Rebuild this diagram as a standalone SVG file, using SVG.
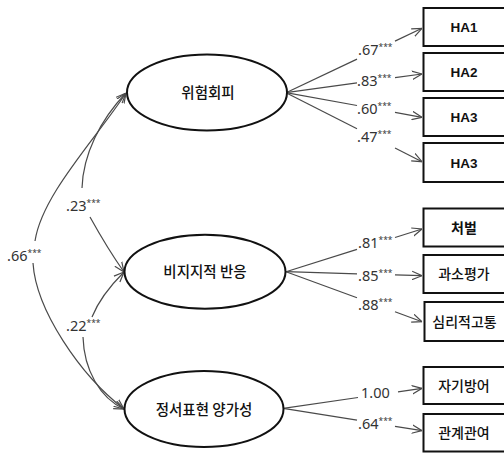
<svg xmlns="http://www.w3.org/2000/svg" width="504" height="455" viewBox="0 0 504 455">
<style>
.lat{fill:#fff;stroke:#111;stroke-width:2}
.obs{fill:#fff;stroke:#111;stroke-width:2}
.lt{font-family:"Noto Sans CJK KR","Noto Sans",sans-serif;font-size:14.5px;font-weight:500;fill:#111;text-anchor:middle}
.bt{font-family:"Noto Sans CJK KR","Noto Sans",sans-serif;font-size:14px;font-weight:500;fill:#111;text-anchor:middle}
.bb{font-weight:bold}
.hb{font-family:"Liberation Sans",Arial,sans-serif;font-size:13.5px;font-weight:bold}
.c{fill:none;stroke:#4a4a4a;stroke-width:1.2}
.lb{font-family:"Noto Sans","Open Sans",sans-serif;font-size:14.5px;fill:#333}
.st{font-size:8.5px}
</style>
<defs>
<marker id="arr" viewBox="0 0 10 10" refX="10" refY="5" markerWidth="10" markerHeight="10" markerUnits="userSpaceOnUse" orient="auto-start-reverse">
<path d="M0,0.8 L10,5 L0,9.2" fill="none" stroke="#4a4a4a" stroke-width="1.2"/>
</marker>
</defs>
<rect width="504" height="455" fill="#fff"/>

<g id="connectors">
<line class="c" x1="286" y1="92.7" x2="357" y2="59.1"/>
<line class="c" x1="395" y1="41.1" x2="422" y2="28.3" marker-end="url(#arr)"/>
<line class="c" x1="286" y1="92.7" x2="357" y2="82.9"/>
<line class="c" x1="395" y1="77.7" x2="422" y2="74" marker-end="url(#arr)"/>
<line class="c" x1="286" y1="92.7" x2="357" y2="105.5"/>
<line class="c" x1="395" y1="112.4" x2="422" y2="117.3" marker-end="url(#arr)"/>
<line class="c" x1="286" y1="92.7" x2="357" y2="128.7"/>
<line class="c" x1="395" y1="148" x2="422" y2="161.7" marker-end="url(#arr)"/>
<line class="c" x1="286" y1="271.7" x2="357" y2="249.4"/>
<line class="c" x1="395" y1="237.5" x2="422" y2="229" marker-end="url(#arr)"/>
<line class="c" x1="286" y1="271.7" x2="357" y2="273.8"/>
<line class="c" x1="395" y1="274.9" x2="422" y2="275.7" marker-end="url(#arr)"/>
<line class="c" x1="286" y1="271.7" x2="357" y2="297.8"/>
<line class="c" x1="395" y1="311.8" x2="422" y2="321.7" marker-end="url(#arr)"/>
<line class="c" x1="283.3" y1="408.3" x2="358" y2="397.5"/>
<line class="c" x1="398" y1="391.8" x2="422" y2="388.3" marker-end="url(#arr)"/>
<line class="c" x1="283.3" y1="408.3" x2="357" y2="420.2"/>
<line class="c" x1="395" y1="426.3" x2="422" y2="430.7" marker-end="url(#arr)"/>
<path class="c" d="M126,93 C95,140 42,195 35,241" marker-start="url(#arr)"/>
<path class="c" d="M33,263 C36,310 80,375 124,409" marker-end="url(#arr)"/>
<path class="c" d="M126,93 C100,120 83,155 82,188" marker-start="url(#arr)"/>
<path class="c" d="M90,217 C100,235 112,255 124,272" marker-end="url(#arr)"/>
<path class="c" d="M124,272 C110,286 98,302 92,317" marker-start="url(#arr)"/>
<path class="c" d="M83,337 C84,370 100,398 124,409" marker-end="url(#arr)"/>
</g>

<g id="labels">
<text class="lb" x="358" y="55">.67<tspan class="st" dy="-5">***</tspan></text>
<text class="lb" x="357" y="86">.83<tspan class="st" dy="-5">***</tspan></text>
<text class="lb" x="357" y="114">.60<tspan class="st" dy="-5">***</tspan></text>
<text class="lb" x="357" y="142">.47<tspan class="st" dy="-5">***</tspan></text>
<text class="lb" x="358" y="248">.81<tspan class="st" dy="-5">***</tspan></text>
<text class="lb" x="358" y="281">.85<tspan class="st" dy="-5">***</tspan></text>
<text class="lb" x="358" y="310">.88<tspan class="st" dy="-5">***</tspan></text>
<text class="lb" x="361" y="398">1.00</text>
<text class="lb" x="358" y="429">.64<tspan class="st" dy="-5">***</tspan></text>
<text class="lb" x="66" y="211">.23<tspan class="st" dy="-5">***</tspan></text>
<text class="lb" x="66" y="331">.22<tspan class="st" dy="-5">***</tspan></text>
<text class="lb" x="7" y="261">.66<tspan class="st" dy="-5">***</tspan></text>
</g>

<g id="f1"><ellipse class="lat" cx="207" cy="92.5" rx="80" ry="38"/><text class="lt" x="208" y="98">위험회피</text></g>
<g id="f2"><ellipse class="lat" cx="205" cy="271.7" rx="80.5" ry="37"/><text class="lt" x="205" y="277">비지지적 반응</text></g>
<g id="f3"><ellipse class="lat" cx="204" cy="409" rx="79.5" ry="38"/><text class="lt" x="204" y="414.5">정서표현 양가성</text></g>

<g id="ha1"><rect class="obs" x="423.5" y="8" width="90" height="38"/><text class="bt hb" x="464" y="32">HA1</text></g>
<g id="ha2"><rect class="obs" x="423.5" y="53" width="90" height="38"/><text class="bt hb" x="464" y="77">HA2</text></g>
<g id="ha3"><rect class="obs" x="423.5" y="98" width="90" height="38"/><text class="bt hb" x="464" y="122">HA3</text></g>
<g id="ha3b"><rect class="obs" x="423.5" y="143" width="90" height="39"/><text class="bt hb" x="464" y="167.5">HA3</text></g>
<g id="o1"><rect class="obs" x="423.5" y="208.5" width="90" height="38"/><text class="bt bb" x="464" y="232.5">처벌</text></g>
<g id="o2"><rect class="obs" x="423.5" y="255" width="90" height="38"/><text class="bt" x="464" y="279">과소평가</text></g>
<g id="o3"><rect class="obs" x="424.5" y="302" width="90" height="39"/><text class="bt" x="464.5" y="326.5">심리적고통</text></g>
<g id="o4"><rect class="obs" x="423.5" y="367" width="90" height="37"/><text class="bt" x="464" y="390.5">자기방어</text></g>
<g id="o5"><rect class="obs" x="423.5" y="414" width="90" height="37.5"/><text class="bt" x="464" y="437.5">관계관여</text></g>
</svg>
